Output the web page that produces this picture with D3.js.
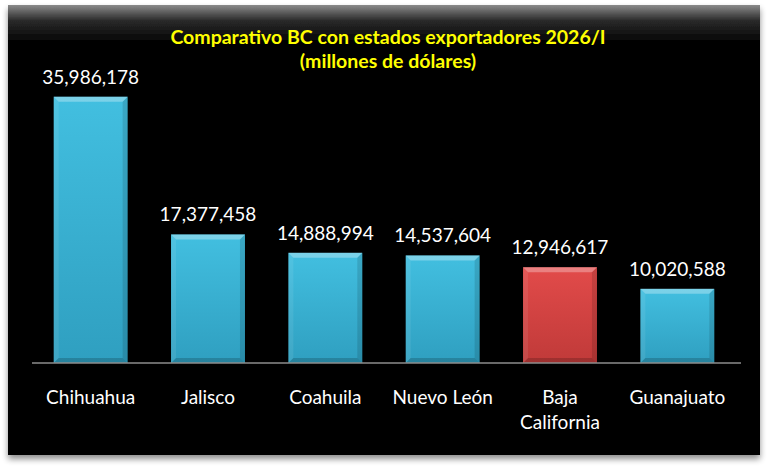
<!DOCTYPE html>
<html><head><meta charset="utf-8">
<script src="https://cdn.jsdelivr.net/npm/d3@7"></script>
<style>
html,body{margin:0;padding:0;background:#fff;}
svg{display:block;}
text{font-family:Lato,"Open Sans",sans-serif;}
</style></head>
<body>
<svg id="c" width="769" height="468"></svg>
<script>
const categories = ["Chihuahua","Jalisco","Coahuila","Nuevo León","Baja California","Guanajuato"];
const values = [35986178,17377458,14888994,14537604,12946617,10020588];
const highlight = ["Baja California"];
const titleLines = ["Comparativo BC con estados exportadores 2026/I","(millones de dólares)"];

const svg = d3.select("#c");
const W = 769, H = 468;
const defs = svg.append("defs");

const f = defs.append("filter").attr("id","sh").attr("x","-5%").attr("y","-5%").attr("width","110%").attr("height","115%");
f.append("feGaussianBlur").attr("in","SourceAlpha").attr("stdDeviation",3);
f.append("feOffset").attr("dx",0).attr("dy",4).attr("result","o");
f.append("feComponentTransfer").append("feFuncA").attr("type","linear").attr("slope",0.45);
const fm = f.append("feMerge"); fm.append("feMergeNode"); fm.append("feMergeNode").attr("in","SourceGraphic");

const topG = defs.append("linearGradient").attr("id","topg").attr("x1",0).attr("y1",0).attr("x2",0).attr("y2",1);
topG.append("stop").attr("offset",0).attr("stop-color","#8a8a8a");
topG.append("stop").attr("offset",0.035).attr("stop-color","#2a2a2a");
topG.append("stop").attr("offset",0.08).attr("stop-color","#050505");
topG.append("stop").attr("offset",1).attr("stop-color","#050505");

function grad(id, c1, c2){
  const g = defs.append("linearGradient").attr("id",id).attr("x1",0).attr("y1",0).attr("x2",0).attr("y2",1);
  g.append("stop").attr("offset",0).attr("stop-color",c1);
  g.append("stop").attr("offset",1).attr("stop-color",c2);
}
grad("gblue","#42bfe0","#2f9fc0");
grad("gred","#e24b4a","#c03a39");

svg.append("rect").attr("x",8).attr("y",5).attr("width",752).attr("height",450)
  .attr("fill","url(#topg)").attr("filter","url(#sh)");

const margin = {left:32, right:33, top:67, bottom:105};
const x = d3.scaleBand().domain(categories).range([margin.left, W - margin.right]).paddingInner(0.37).paddingOuter(0.185);
const y = d3.scaleLinear().domain([0, 40000000]).range([H - margin.bottom, margin.top]);

svg.append("g").selectAll("text").data(titleLines).join("text")
  .attr("x", 388).attr("y",(d,i)=>44 + i*24).attr("text-anchor","middle")
  .attr("fill","#ffff00").attr("font-weight","bold").attr("font-size",19.5)
  .text(d=>d);

const data = categories.map((c,i)=>({c, v:values[i]}));
const bev = 5;
const bg = svg.append("g").selectAll("g").data(data).join("g");
bg.append("rect")
  .attr("x",d=>x(d.c)).attr("y",d=>y(d.v)).attr("width",x.bandwidth()).attr("height",d=>y(0)-y(d.v))
  .attr("fill",d=>highlight.includes(d.c)?"url(#gred)":"url(#gblue)");
bg.append("path").attr("d",d=>{
  const x0=x(d.c), x1=x0+x.bandwidth(), t=y(d.v);
  return `M${x0},${t}L${x1},${t}L${x1-bev},${t+bev}L${x0+bev},${t+bev}Z`;
}).attr("fill","#fff").attr("opacity",0.3);
bg.append("path").attr("d",d=>{
  const x0=x(d.c), t=y(d.v), b=y(0);
  return `M${x0},${t}L${x0+bev},${t+bev}L${x0+bev},${b-bev}L${x0},${b}Z`;
}).attr("fill","#fff").attr("opacity",0.08);
bg.append("path").attr("d",d=>{
  const x1=x(d.c)+x.bandwidth(), t=y(d.v), b=y(0);
  return `M${x1},${t}L${x1-bev},${t+bev}L${x1-bev},${b-bev}L${x1},${b}Z`;
}).attr("fill","#000").attr("opacity",0.12);
bg.append("path").attr("d",d=>{
  const x0=x(d.c), x1=x0+x.bandwidth(), b=y(0);
  return `M${x0},${b}L${x1},${b}L${x1-bev},${b-bev}L${x0+bev},${b-bev}Z`;
}).attr("fill","#000").attr("opacity",0.18);

bg.append("text").attr("x",d=>x(d.c)+x.bandwidth()/2).attr("y",d=>y(d.v)-13)
  .attr("text-anchor","middle").attr("fill","#fff").attr("font-size",19)
  .text(d=>d3.format(",")(d.v));

// axis line
svg.append("line").attr("x1",margin.left).attr("x2",741).attr("y1",y(0)).attr("y2",y(0))
  .attr("stroke","#8c8c8c").attr("stroke-width",1.5);
const ax = svg.append("g").attr("transform",`translate(0,${y(0)})`)
  .call(d3.axisBottom(x).tickSize(0).tickPadding(0));
ax.select(".domain").remove();
ax.selectAll(".tick text").remove();
ax.selectAll(".tick").each(function(d){
  const words = d.split(" ");
  const lines = (d === "Baja California") ? words : [d];
  const t = d3.select(this).append("text").attr("fill","#fff").attr("font-size",19).attr("text-anchor","middle");
  lines.forEach((l,i)=>t.append("tspan").attr("x",0).attr("y",41 + i*25).text(l));
});
</script>
</body></html>
